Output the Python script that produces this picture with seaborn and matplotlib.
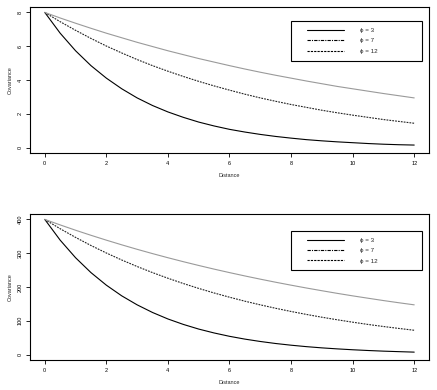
import matplotlib
matplotlib.use("Agg")
import matplotlib.pyplot as plt
from matplotlib.lines import Line2D
from matplotlib.patches import Rectangle
import seaborn as sns
import pandas as pd

distance = [0, 0.5, 1, 1.5, 2, 2.5, 3, 3.5, 4, 4.5, 5, 5.5, 6, 6.5, 7, 7.5,
            8, 8.5, 9, 9.5, 10, 10.5, 11, 11.5, 12]

top_phi3 = [8, 6.77, 5.73, 4.85, 4.11, 3.48, 2.94, 2.49, 2.11, 1.79, 1.51, 1.28,
            1.08, 0.92, 0.78, 0.66, 0.56, 0.47, 0.40, 0.34, 0.29, 0.24, 0.20, 0.17, 0.15]
top_phi7 = [8, 7.45, 6.94, 6.46, 6.01, 5.60, 5.21, 4.85, 4.52, 4.21, 3.92, 3.65,
            3.40, 3.16, 2.94, 2.74, 2.55, 2.38, 2.21, 2.06, 1.92, 1.79, 1.66, 1.55, 1.44]
top_phi12 = [8, 7.67, 7.36, 7.06, 6.77, 6.50, 6.23, 5.98, 5.73, 5.50, 5.27, 5.06,
             4.85, 4.65, 4.46, 4.28, 4.11, 3.94, 3.78, 3.62, 3.48, 3.34, 3.20, 3.07, 2.94]

bot_phi3 = [400, 338.6, 286.6, 242.6, 205.4, 173.8, 147.2, 124.6, 105.4, 89.3, 75.5, 64.0,
            54.1, 45.8, 38.8, 32.8, 27.8, 23.5, 19.9, 16.9, 14.3, 12.1, 10.2, 8.7, 7.3]
bot_phi7 = [400, 372.4, 346.8, 322.8, 300.6, 279.9, 260.6, 242.6, 225.9, 210.3, 195.8, 182.3,
            169.8, 158.0, 147.2, 137.0, 127.6, 118.8, 110.6, 103.0, 95.9, 89.2, 83.1, 77.4, 72.0]
bot_phi12 = [400, 383.7, 368.0, 353.0, 338.6, 324.8, 311.5, 298.8, 286.6, 274.9, 263.7, 252.9,
             242.6, 232.7, 223.2, 214.1, 205.4, 197.0, 189.0, 181.2, 173.8, 166.8, 159.9, 153.4, 147.2]

legend_labels = ["\u03d5 = 3", "\u03d5 = 7", "\u03d5 = 12"]
x_ticks = [0, 2, 4, 6, 8, 10, 12]
top_y_ticks = [0, 2, 4, 6, 8]
bot_y_ticks = [0, 100, 200, 300, 400]

sns.set_style("ticks")
plt.rcParams['font.family'] = ['Liberation Sans', 'DejaVu Sans']

fig = plt.figure(figsize=(4.37, 3.90), dpi=100)
ax_top = fig.add_axes([30/437, 1-153/390, 399/437, 146/390])
ax_bot = fig.add_axes([30/437, 1-360/390, 399/437, 146/390])

styles = [
    dict(color="black", linestyle="-", linewidth=0.8),
    dict(color="#222222", linestyle=(0, (1.6, 1.0)), linewidth=0.8),
    dict(color="#9a9a9a", linestyle="-", linewidth=0.8),
]
legend_styles = [
    dict(color="black", linestyle="-", linewidth=0.8),
    dict(color="black", linestyle=(0, (3, 1, 1, 1)), linewidth=0.8),
    dict(color="black", linestyle=(0, (2, 1)), linewidth=0.8),
]

def draw(ax, series, yticks, ymax, box):
    for vals, lab, st in zip(series, legend_labels, styles):
        df = pd.DataFrame({"Distance": distance, "Covariance": vals})
        sns.lineplot(data=df, x="Distance", y="Covariance", ax=ax, **st)
    ax.set_xlim(-0.48, 12.48)
    ax.set_ylim(-0.04 * ymax, 1.04 * ymax)
    ax.set_xticks(x_ticks)
    ax.set_xticklabels([str(t) for t in x_ticks])
    ax.set_yticks(yticks)
    ax.set_yticklabels([str(t) for t in yticks], rotation=90, va="center")
    for s in ax.spines.values():
        s.set_visible(True)
        s.set_linewidth(0.8)
        s.set_color("black")
    ax.tick_params(axis="both", direction="out", length=3, width=0.6,
                   labelsize=4, pad=2.5, colors="black")
    ax.set_xlabel("Distance", fontsize=4, labelpad=5)
    ax.set_ylabel("Covariance", fontsize=4, labelpad=3)
    x0, y0, x1, y1 = box
    ax.add_patch(Rectangle((x0, y0), x1 - x0, y1 - y0, transform=ax.transAxes,
                           fill=False, edgecolor="black", linewidth=0.8, zorder=5))
    handles = [Line2D([0], [0], **st) for st in legend_styles]
    ax.legend(handles, legend_labels, loc="upper left",
              bbox_to_anchor=(0.695, y1 - 0.045), fontsize=4.5, frameon=False,
              handlelength=5.8, handletextpad=2.7, borderpad=0, labelspacing=0.8,
              borderaxespad=0)

draw(ax_top, [top_phi3, top_phi7, top_phi12], top_y_ticks, 8,
     (0.654, 0.630, 0.982, 0.904))
draw(ax_bot, [bot_phi3, bot_phi7, bot_phi12], bot_y_ticks, 400,
     (0.654, 0.616, 0.982, 0.884))

fig.savefig("out.png", dpi=100)
